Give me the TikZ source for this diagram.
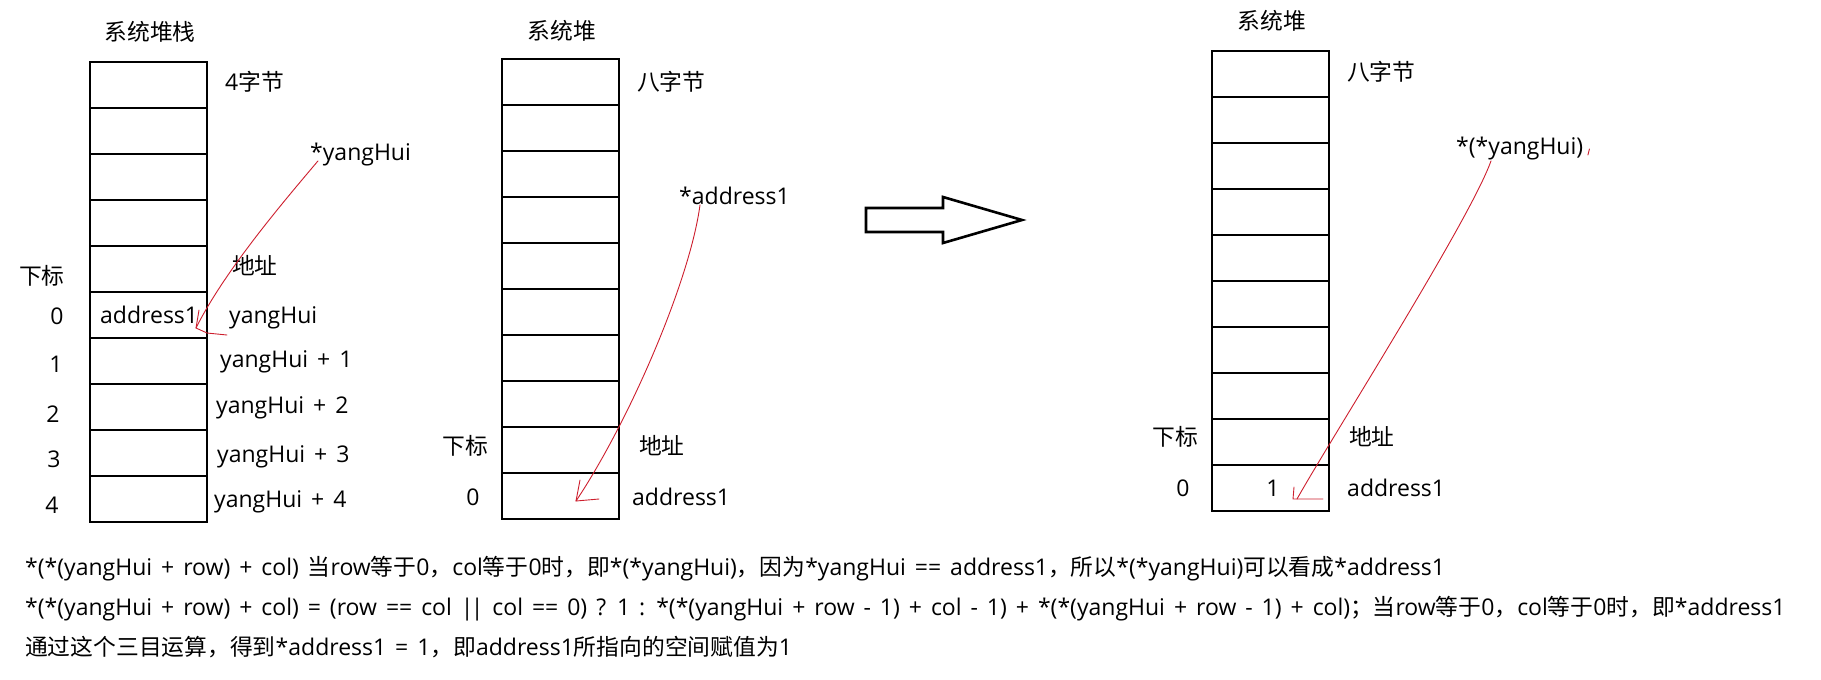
\documentclass[tikz,border=0pt]{standalone}
\usepackage{fontspec}
\setmainfont{Open Sans}[WordSpace=1.5]
\newfontfamily\cjk{Noto Sans CJK SC}[Scale=0.99]
\usetikzlibrary{positioning}
\definecolor{pen}{RGB}{205,30,45}
\tikzset{
  cell/.style={line width=2.6pt},
  lbl/.style={inner sep=0pt, font=\fontsize{23}{27}\selectfont, text height=15.4pt, text depth=0pt},
  hand/.style={draw=pen, line width=0.9pt, line cap=round, line join=round},
}

\begin{document}
\begin{tikzpicture}[x=1pt, y=-1pt]
  \useasboundingbox (0,0) rectangle (1821,680);
  %stack, 4 bytes each
  \foreach \i in {0,...,9}
    \draw[cell] (90,{62+46*\i}) rectangle ++(117,46);
  \node[lbl] (titleA) at (150,33) {\cjk 系统堆栈};
  \node[lbl, anchor=west] (sizeA) at (225,83) {4{\cjk 字节}};
  \node[lbl, anchor=west] (ptrA) at (310,153) {*yangHui};
  \node[lbl, anchor=west] (addrA) at (232,267) {\cjk 地址};
  \node[lbl] (idxA) at (42,277) {\cjk 下标};
  \node[lbl, anchor=west] (valA) at (100,316) {address1};
  \node[lbl, anchor=west] (nameA0) at (229,316) {yangHui};
  \foreach \k/\nx/\ny in {1/220/360, 2/216/406, 3/217/455, 4/214/500}
    \node[lbl, anchor=west] (nameA\k) at (\nx,\ny) {yangHui + \k};
  \foreach \k/\ix/\iy in {0/57/317, 1/56/365, 2/53/415, 3/54/460, 4/52/506}
    \node[lbl] (numA\k) at (\ix,\iy) {\k};
  \coordinate (tipA) at (196,328);
  \draw[hand] ([xshift=8pt]ptrA.south west) .. controls (285,200) and (225,270) .. (tipA);
  \draw[hand] ([shift={(3,-18)}]tipA) -- (tipA) -- ++(11,5) -- ++(20,2);

  %heap, 8 bytes each
  \foreach \i in {0,...,9}
    \draw[cell] (502,{59+46*\i}) rectangle ++(117,46);
  \node[lbl] (titleB) at (562,32) {\cjk 系统堆};
  \node[lbl, anchor=west] (sizeB) at (637,83) {\cjk 八字节};
  \node[lbl, anchor=west] (ptrB) at (679,197) {*address1};
  \node[lbl] (idxB) at (465,447) {\cjk 下标};
  \node[lbl, anchor=west] (addrB) at (639,447) {\cjk 地址};
  \node[lbl] (numB) at (473,498) {0};
  \node[lbl, anchor=west] (nameB) at (632,498) {address1};
  \coordinate (tipB) at (576,501);
  \draw[hand] ([xshift=21pt]ptrB.south west) .. controls (690,280) and (630,420) .. (tipB);
  \draw[hand] ([shift={(4,-21)}]tipB) -- (tipB) -- ++(23,-2);

  %arrow
  \draw[line width=2.6pt, line join=miter] (866,208) -- (943,208) -- (943,197) -- (1022,220)
    -- (943,243) -- (943,232) -- (866,232) -- cycle;

  %heap after assignment
  \foreach \i in {0,...,9}
    \draw[cell] (1212,{51+46*\i}) rectangle ++(117,46);
  \node[lbl] (titleC) at (1272,22) {\cjk 系统堆};
  \node[lbl, anchor=west] (sizeC) at (1347,73) {\cjk 八字节};
  \node[lbl, anchor=west] (ptrC) at (1456,147) {*(*yangHui)};
  \node[lbl] (idxC) at (1175,438) {\cjk 下标};
  \node[lbl, anchor=west] (addrC) at (1349,438) {\cjk 地址};
  \node[lbl] (numC) at (1183,489) {0};
  \node[lbl] (valC) at (1273,489) {1};
  \node[lbl, anchor=west] (nameC) at (1347,489) {address1};
  \coordinate (tipC) at (1297,499);
  \draw[hand] ([xshift=35pt,yshift=-6pt]ptrC.south west) .. controls (1470,220) and (1330,440) .. (tipC);
  \draw[hand] ([shift={(-3,-12)}]tipC) -- ++(-1,12) -- ++(30,0);
  \draw[hand] ([xshift=6pt,yshift=-2pt]ptrC.east) -- ++(-1.5,6);

  %notes
  \node[lbl, anchor=west] (noteA) at (25,568) {*(*(yangHui + row) + col) {\cjk 当}row{\cjk 等于}0{\cjk ，}col{\cjk 等于}0{\cjk 时，即}*(*yangHui){\cjk ，因为}*yangHui == address1{\cjk ，所以}*(*yangHui){\cjk 可以看成}*address1};
  \node[lbl, anchor=west] (noteB) at (25,608) {*(*(yangHui + row) + col) = (row == col |\kern-0.12em| col == 0) ? 1 : *(*(yangHui + row - 1) + col - 1) + *(*(yangHui + row - 1) + col){\cjk ；当}row{\cjk 等于}0{\cjk ，}col{\cjk 等于}0{\cjk 时，即}*address1};
  \node[lbl, anchor=west] (noteC) at (25,648) {{\cjk 通过这个三目运算，得到}*address1 = 1{\cjk ，即}address1{\cjk 所指向的空间赋值为}1};
\end{tikzpicture}
\end{document}
